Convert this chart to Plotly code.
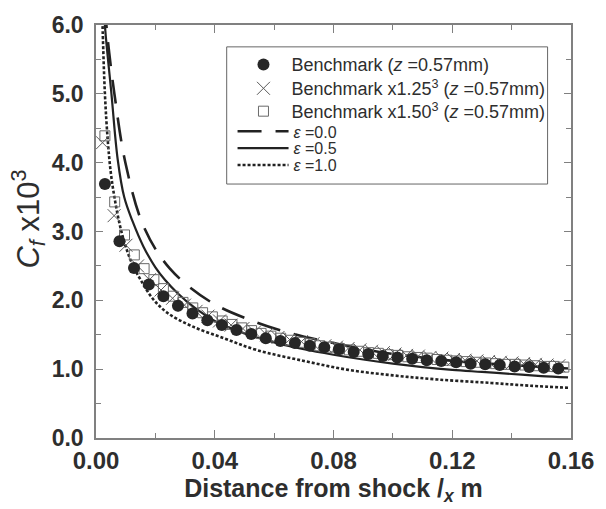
import plotly.graph_objects as go

# ---- data ----
bench_x = [0.0030, 0.0079, 0.0128, 0.0178, 0.0227, 0.0276, 0.0325, 0.0375, 0.0424, 0.0473,
           0.0523, 0.0572, 0.0621, 0.0670, 0.0720, 0.0769, 0.0818, 0.0868, 0.0917, 0.0966,
           0.1015, 0.1065, 0.1114, 0.1163, 0.1213, 0.1262, 0.1311, 0.1360, 0.1410, 0.1459,
           0.1508, 0.1557]
bench_y = [3.69, 2.86, 2.47, 2.23, 2.06, 1.92, 1.81, 1.71, 1.64, 1.57,
           1.51, 1.45, 1.41, 1.38, 1.34, 1.32, 1.29, 1.25, 1.22, 1.19,
           1.17, 1.15, 1.13, 1.12, 1.10, 1.08, 1.07, 1.06, 1.04, 1.03,
           1.02, 1.01]

b125_x = [0.0022, 0.0061, 0.0101, 0.0140, 0.0180, 0.0219, 0.0258, 0.0298, 0.0337, 0.0377,
          0.0416, 0.0455, 0.0495, 0.0534, 0.0574, 0.0613, 0.0652, 0.0692, 0.0731, 0.0771,
          0.0810, 0.0849, 0.0889, 0.0928, 0.0968, 0.1007, 0.1046, 0.1086, 0.1125, 0.1165,
          0.1204, 0.1243, 0.1283, 0.1322, 0.1362, 0.1401, 0.1440, 0.1480, 0.1519, 0.1559]
b125_y = [4.29, 3.23, 2.80, 2.50, 2.30, 2.15, 2.03, 1.93, 1.84, 1.77,
          1.70, 1.64, 1.59, 1.54, 1.50, 1.46, 1.43, 1.40, 1.37, 1.34,
          1.32, 1.30, 1.28, 1.26, 1.24, 1.22, 1.20, 1.19, 1.17, 1.16,
          1.14, 1.13, 1.12, 1.11, 1.10, 1.09, 1.08, 1.07, 1.06, 1.05]

b150_x = [0.0030, 0.0063, 0.0096, 0.0129, 0.0162, 0.0195, 0.0227, 0.0260, 0.0293, 0.0326,
          0.0359, 0.0392, 0.0425, 0.0458, 0.0491, 0.0524, 0.0556, 0.0589, 0.0622, 0.0655,
          0.0688, 0.0721, 0.0754, 0.0787, 0.0820, 0.0853, 0.0885, 0.0918, 0.0951, 0.0984,
          0.1017, 0.1050, 0.1083, 0.1116, 0.1149, 0.1182, 0.1214, 0.1247, 0.1280, 0.1313,
          0.1346, 0.1379, 0.1412, 0.1445, 0.1478, 0.1511, 0.1543, 0.1576]
b150_y = [4.39, 3.43, 2.95, 2.66, 2.46, 2.30, 2.17, 2.06, 1.97, 1.89,
          1.82, 1.76, 1.70, 1.65, 1.60, 1.56, 1.52, 1.48, 1.45, 1.42,
          1.39, 1.37, 1.34, 1.32, 1.30, 1.28, 1.26, 1.24, 1.23, 1.21,
          1.20, 1.18, 1.17, 1.16, 1.14, 1.13, 1.12, 1.11, 1.10, 1.09,
          1.08, 1.07, 1.07, 1.06, 1.05, 1.04, 1.04, 1.03]

eps00_x = [0.0032, 0.0035, 0.0046, 0.0062, 0.0099, 0.0161, 0.0249, 0.0385, 0.0528, 0.0665,
           0.0800, 0.0955, 0.1100, 0.1250, 0.1400, 0.1590]
eps00_y = [6.30, 6.00, 5.54, 5.00, 4.00, 3.07, 2.46, 1.98, 1.70, 1.51,
           1.38, 1.25, 1.17, 1.10, 1.06, 1.01]

eps05_x = [0.0028, 0.0030, 0.0052, 0.0073, 0.0095, 0.0123, 0.0160, 0.0200, 0.0232, 0.0276,
           0.0330, 0.0400, 0.0500, 0.0600, 0.0700, 0.0800, 0.0900, 0.1000, 0.1100, 0.1200,
           0.1300, 0.1400, 0.1500, 0.1590]
eps05_y = [6.30, 6.00, 5.00, 4.05, 3.50, 3.15, 2.78, 2.48, 2.30, 2.10,
           1.90, 1.70, 1.52, 1.39, 1.29, 1.21, 1.14, 1.08, 1.03, 0.99,
           0.96, 0.93, 0.90, 0.88]

eps10_x = [0.0021, 0.0022, 0.0030, 0.0040, 0.0050, 0.0062, 0.0080, 0.0100, 0.0125, 0.0150,
           0.0190, 0.0240, 0.0320, 0.0430, 0.0540, 0.0700, 0.0850, 0.1000, 0.1150, 0.1330,
           0.1460, 0.1590]
eps10_y = [6.20, 6.00, 5.00, 4.30, 3.85, 3.50, 3.10, 2.78, 2.50, 2.30,
           2.03, 1.82, 1.63, 1.45, 1.28, 1.12, 0.99, 0.91, 0.85, 0.80,
           0.76, 0.73]

x_ticks = [0.00, 0.04, 0.08, 0.12, 0.16]
y_ticks = [0.0, 1.0, 2.0, 3.0, 4.0, 5.0, 6.0]

FONT = "Liberation Sans, Arial, sans-serif"
INK = "#222222"
AX = "#808080"
TXT = "#2e2e2e"

# plot-area geometry (pixels) used to place legends / annotation in paper coords
L, R, T, B = 96, 583, 23, 438.5
def px(x):
    return (x - L) / (R - L)
def py(y):
    return (B - y) / (B - T)

fig = go.Figure()

# lines first (drawn under markers)
fig.add_trace(go.Scatter(x=eps00_x, y=eps00_y, mode="lines", name="<i>ε</i> =0.0",
                         line=dict(color=INK, width=2.6, dash="24px,14px", shape="spline"),
                         legend="legend4"))
fig.add_trace(go.Scatter(x=eps05_x, y=eps05_y, mode="lines", name="<i>ε</i> =0.5",
                         line=dict(color=INK, width=2.2, shape="spline"),
                         legend="legend5"))
fig.add_trace(go.Scatter(x=eps10_x, y=eps10_y, mode="lines", name="<i>ε</i> =1.0",
                         line=dict(color=INK, width=2.6, dash="3px,2px", shape="spline"),
                         legend="legend6"))

fig.add_trace(go.Scatter(x=b150_x, y=b150_y, mode="markers",
                         name="Benchmark x1.50<sup>3</sup> (<i>z</i> =0.57mm)",
                         marker=dict(symbol="square-open", size=10, color="#6a6a6a",
                                     line=dict(width=1, color="#6a6a6a")),
                         legend="legend3"))
fig.add_trace(go.Scatter(x=b125_x, y=b125_y, mode="markers",
                         name="Benchmark x1.25<sup>3</sup> (<i>z</i> =0.57mm)",
                         marker=dict(symbol="x-thin-open", size=13, color="#5a5a5a",
                                     line=dict(width=1, color="#5a5a5a")),
                         legend="legend2"))
fig.add_trace(go.Scatter(x=bench_x, y=bench_y, mode="markers",
                         name="Benchmark (<i>z</i> =0.57mm)",
                         marker=dict(symbol="circle", size=12, color="#262626"),
                         legend="legend"))

axis_common = dict(showline=True, linecolor=AX, linewidth=1.5, mirror="ticks",
                   ticks="inside", tickcolor=AX, tickwidth=1, showgrid=False, zeroline=False,
                   ticklabeloverflow="allow")

fig.update_xaxes(range=[0, 0.16], tickvals=x_ticks,
                 ticktext=[f"{v:.2f}" for v in x_ticks], ticklen=8,
                 tickfont=dict(family=FONT, size=24, color=TXT, weight="bold"),
                 minor=dict(dtick=0.02, tick0=0, ticks="inside", ticklen=5, tickcolor=AX),
                 title=dict(text="Distance from shock /<sub><i>x</i></sub> m",
                            font=dict(family=FONT, size=25, color=TXT, weight="bold"),
                            standoff=4),
                 **axis_common)
fig.update_yaxes(range=[0, 6], tickvals=y_ticks,
                 ticktext=[f"{v:.1f}" for v in y_ticks], ticklen=7,
                 tickfont=dict(family=FONT, size=23, color=TXT, weight="bold"),
                 ticklabelstandoff=6,
                 minor=dict(dtick=0.5, tick0=0, ticks="inside", ticklen=5, tickcolor=AX),
                 **axis_common)

def leg(xp, yp, iw, fs):
    return dict(x=px(xp), y=py(yp), xanchor="left", yanchor="middle",
                bgcolor="rgba(0,0,0,0)", borderwidth=0,
                font=dict(family=FONT, size=fs, color=TXT),
                itemwidth=iw, tracegroupgap=0)

fig.update_layout(
    width=606, height=509,
    margin=dict(l=96, r=23, t=23, b=71),
    paper_bgcolor="white", plot_bgcolor="white",
    showlegend=True,
    legend=leg(239, 63, 46, 18),
    legend2=leg(239, 87, 46, 18),
    legend3=leg(239, 110, 46, 18),
    legend4=leg(236, 130, 51, 16),
    legend5=leg(236, 147, 51, 16),
    legend6=leg(236, 164, 51, 16),
    shapes=[dict(type="rect", xref="paper", yref="paper",
                 x0=px(230), x1=px(559), y0=py(183), y1=py(45),
                 line=dict(color="#666666", width=1), fillcolor="rgba(0,0,0,0)")],
    annotations=[dict(text="<i>C</i><sub><i>f</i></sub> x10<sup>3</sup>",
                      xref="paper", yref="paper", x=px(27), y=py(218),
                      xanchor="center", yanchor="middle", textangle=-90, showarrow=False,
                      font=dict(family=FONT, size=31, color=TXT))],
)

fig.write_html("out.html")
